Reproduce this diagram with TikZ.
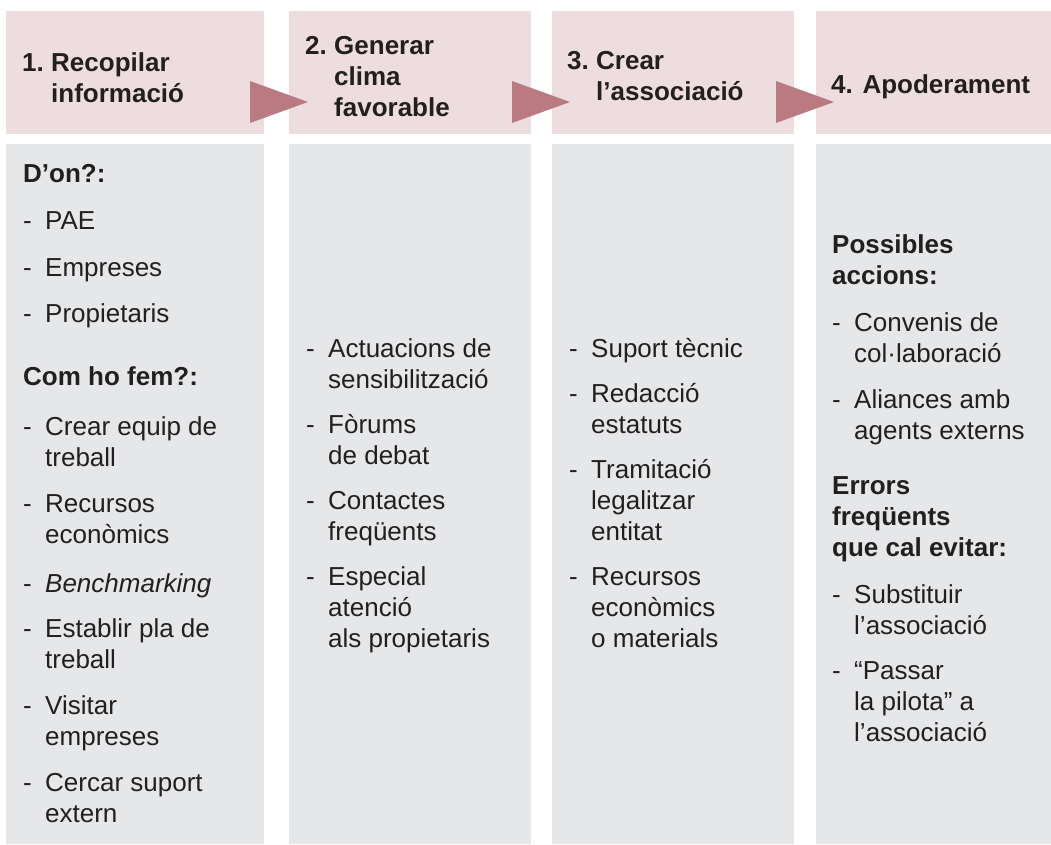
\documentclass[tikz,border=0pt]{standalone}
\usepackage{fontspec}
\setmainfont{Liberation Sans}
\usepackage{array}
\definecolor{headpink}{HTML}{EEDDDE}
\definecolor{arrowred}{HTML}{B97B81}
\definecolor{bodygray}{HTML}{E6E7E8}
\definecolor{ink}{HTML}{231F20}
\newcommand\dsh{\makebox[22pt][l]{-}}
\newcommand\itm[1]{\begin{tabular}[t]{@{}l@{}l@{}}\dsh&#1\end{tabular}}
\newcommand\lns[1]{\begin{tabular}[t]{@{}l@{}}#1\end{tabular}}
\newcommand\hdr[2]{\begin{tabular}[t]{@{}l@{}l@{}}\makebox[29pt][l]{#1}&#2\end{tabular}}
\tikzset{
  txt/.style={anchor=base west, inner sep=0pt, text=ink, font=\fontsize{26}{31}\selectfont},
  txtb/.style={txt, font=\fontsize{26}{31}\selectfont\bfseries},
  headbox/.style={fill=headpink},
  bodybox/.style={fill=bodygray},
  flowarrow/.style={fill=arrowred}
}
\begin{document}
\begin{tikzpicture}[x=1pt,y=-1pt]
\useasboundingbox (0,0) rectangle (1051,844);
% column boxes
\fill[headbox] (6,11) rectangle (264,134);
\fill[bodybox] (6,144) rectangle (264,844);
\fill[headbox] (289,11) rectangle (531,134);
\fill[bodybox] (289,144) rectangle (531,844);
\fill[headbox] (552,11) rectangle (794,134);
\fill[bodybox] (552,144) rectangle (794,844);
\fill[headbox] (816,11) rectangle (1051,134);
\fill[bodybox] (816,144) rectangle (1051,844);
% arrows
\fill[flowarrow] (250,81) -- (308,102) -- (250,123) -- cycle;
\fill[flowarrow] (512,81) -- (570,102) -- (512,123) -- cycle;
\fill[flowarrow] (776,81) -- (834,102) -- (776,123) -- cycle;
% headers
\node[txtb] (h1) at (22,71) {\hdr{1.}{Recopilar\\&informació}};
\node[txtb] (h2) at (305,54) {\hdr{2.}{Generar\\&clima\\&favorable}};
\node[txtb] (h3) at (567,69) {\hdr{3.}{Crear\\&l’associació}};
\node[txtb] (h4) at (831,93) {4. Apoderament};
% column 1
\node[txtb] (c1h1) at (23,182) {D’on?:};
\node[txt] (c1a) at (23,229) {\itm{PAE}};
\node[txt] (c1b) at (23,276) {\itm{Empreses}};
\node[txt] (c1c) at (23,322) {\itm{Propietaris}};
\node[txtb] (c1h2) at (23,385) {Com ho fem?:};
\node[txt] (c1d) at (23,435) {\itm{Crear equip de\\&treball}};
\node[txt] (c1e) at (23,512) {\itm{Recursos\\&econòmics}};
\node[txt] (c1f) at (23,592) {\itm{\textit{Benchmarking}}};
\node[txt] (c1g) at (23,637) {\itm{Establir pla de\\&treball}};
\node[txt] (c1h) at (23,714) {\itm{Visitar\\&empreses}};
\node[txt] (c1i) at (23,791) {\itm{Cercar suport\\&extern}};
% column 2
\node[txt] (c2a) at (306,357) {\itm{Actuacions de\\&sensibilització}};
\node[txt] (c2b) at (306,433) {\itm{Fòrums\\&de debat}};
\node[txt] (c2c) at (306,509) {\itm{Contactes\\&freqüents}};
\node[txt] (c2d) at (306,585) {\itm{Especial\\&atenció\\&als propietaris}};
% column 3
\node[txt] (c3a) at (569,357) {\itm{Suport tècnic}};
\node[txt] (c3b) at (569,402) {\itm{Redacció\\&estatuts}};
\node[txt] (c3c) at (569,478) {\itm{Tramitació\\&legalitzar\\&entitat}};
\node[txt] (c3d) at (569,585) {\itm{Recursos\\&econòmics\\&o materials}};
% column 4
\node[txtb] (c4h1) at (832,253) {\lns{Possibles\\accions:}};
\node[txt] (c4a) at (832,331) {\itm{Convenis de\\&col·laboració}};
\node[txt] (c4b) at (832,408) {\itm{Aliances amb\\&agents externs}};
\node[txtb] (c4h2) at (832,494) {\lns{Errors\\freqüents\\que cal evitar:}};
\node[txt] (c4c) at (832,603) {\itm{Substituir\\&l’associació}};
\node[txt] (c4d) at (832,679) {\itm{“Passar\\&la pilota” a\\&l’associació}};
\end{tikzpicture}
\end{document}
